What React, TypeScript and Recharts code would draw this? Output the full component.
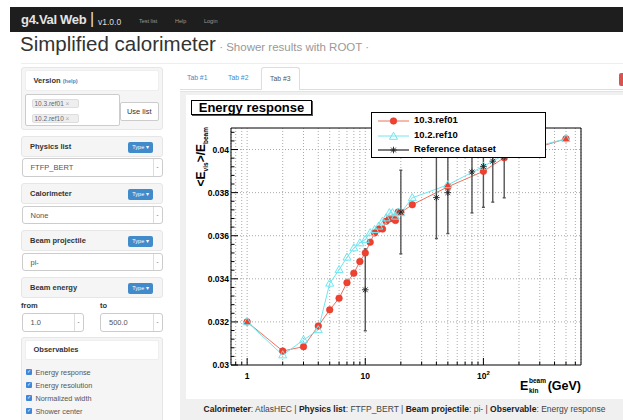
import React from "react";
import {
  ComposedChart,
  Line,
  Scatter,
  XAxis,
  YAxis,
  CartesianGrid,
  ReferenceLine,
  ReferenceArea,
  ErrorBar,
} from "recharts";

// beam energies in GeV, same for both Geant4 versions
const energies = [1, 2, 3, 4, 5, 6, 7, 8, 9, 10, 11, 12, 13, 14, 15, 16, 17, 18, 19, 20, 25, 50, 100, 150, 500];
const resp103 = [
  0.032, 0.03065, 0.03085, 0.03181, 0.03256, 0.0331, 0.03382, 0.03426, 0.0348, 0.0352, 0.0357, 0.03613, 0.03631,
  0.03631, 0.03667, 0.03678, 0.03682, 0.03671, 0.0371, 0.03708, 0.03744, 0.03827, 0.03899, 0.03962, 0.0405,
];
const resp102 = [
  0.032, 0.03046, 0.03116, 0.03163, 0.03379, 0.03442, 0.035, 0.03543, 0.03566, 0.03582, 0.03613, 0.03628, 0.03644,
  0.03667, 0.03682, 0.03706, 0.03706, 0.0369, 0.03708, 0.03706, 0.03776, 0.03836, 0.03922, 0.03975, 0.0405,
];
// reference (test beam) data with errors
const refEnergies = [10, 20, 40, 50, 80, 100, 120, 150];
const refResp = [0.03349, 0.0371, 0.03777, 0.038, 0.03896, 0.03922, 0.03946, 0.03966];
const refErr = [0.0019, 0.00194, 0.0019, 0.0019, 0.0019, 0.0019, 0.0019, 0.0019];

const xTicks = [0.8, 0.9, 1, 2, 3, 4, 5, 6, 7, 8, 9, 10, 20, 30, 40, 50, 60, 70, 80, 90, 100, 200, 300, 400, 500, 600];
const xMajor = [1, 10, 100];
const yTicks = [
  0.03, 0.0304, 0.0308, 0.0312, 0.0316, 0.032, 0.0324, 0.0328, 0.0332, 0.0336, 0.034, 0.0344, 0.0348, 0.0352,
  0.0356, 0.036, 0.0364, 0.0368, 0.0372, 0.0376, 0.038, 0.0384, 0.0388, 0.0392, 0.0396, 0.04, 0.0404, 0.0408,
];
const yMajor = [0.03, 0.032, 0.034, 0.036, 0.038, 0.04];
const yLabels = ["0.03", "0.032", "0.034", "0.036", "0.038", "0.04"];

const data103 = energies.map((e, i) => ({ e, val: resp103[i] }));
const data102 = energies.map((e, i) => ({ e, val: resp102[i] }));
const refData = refEnergies.map((e, i) => ({ e, val: refResp[i], err: refErr[i] }));

const FONT = '"Liberation Sans", Arial, Helvetica, sans-serif';
const RED = "#f0402f";
const CYAN = "#6fe6f0";

const RedDot = ({ cx, cy }: any) => (
  <circle cx={cx} cy={cy} r={3.3} fill={RED} stroke="#d83a2c" strokeWidth={0.6} />
);
const Tri = ({ cx, cy }: any) => (
  <polygon
    points={`${cx},${cy - 4.3} ${cx - 4},${cy + 2.8} ${cx + 4},${cy + 2.8}`}
    fill="none"
    stroke={CYAN}
    strokeWidth={1}
  />
);
const Star = ({ cx, cy }: any) => {
  const r = 3.3, d = 2.4;
  return (
    <g stroke="#222" strokeWidth={0.9}>
      <line x1={cx - r} y1={cy} x2={cx + r} y2={cy} />
      <line x1={cx} y1={cy - r} x2={cx} y2={cy + r} />
      <line x1={cx - d} y1={cy - d} x2={cx + d} y2={cy + d} />
      <line x1={cx - d} y1={cy + d} x2={cx + d} y2={cy - d} />
    </g>
  );
};

const XTick = ({ x, y, payload }: any) => {
  const v = payload.value;
  const major = xMajor.includes(v);
  return (
    <g>
      <line x1={x} x2={x} y1={y} y2={y - (major ? 7 : 3.5)} stroke="#000" />
      {major && (
        <text x={x} y={y + 13.5} textAnchor="middle" fontSize={8.5} fontWeight="bold" fontFamily={FONT} fill="#000">
          {v === 100 ? (
            <>
              10<tspan dy={-4} fontSize={6}>2</tspan>
            </>
          ) : (
            String(v)
          )}
        </text>
      )}
    </g>
  );
};

const YTick = ({ x, y, payload }: any) => {
  const idx = yMajor.findIndex((m) => Math.abs(m - payload.value) < 1e-9);
  const major = idx >= 0;
  return (
    <g>
      <line x1={x} x2={x + (major ? 7 : 3.5)} y1={y} y2={y} stroke="#000" />
      {major && (
        <text x={x - 2} y={y + 3} textAnchor="end" fontSize={8.5} fontWeight="bold" fontFamily={FONT} fill="#000">
          {yLabels[idx]}
        </text>
      )}
    </g>
  );
};

const XTitle = ({ viewBox }: any) => {
  const right = viewBox.x + viewBox.width;
  const by = viewBox.y + 25;
  return (
    <g fontWeight="bold" fontFamily={FONT} fill="#000">
      <text x={right - 61} y={by} fontSize={12.5}>E</text>
      <text x={right - 52} y={by - 7} fontSize={6.5}>beam</text>
      <text x={right - 52} y={by + 3} fontSize={6.5}>kin</text>
      <text x={right} y={by} fontSize={12.5} textAnchor="end">(GeV)</text>
    </g>
  );
};

const YTitle = ({ viewBox }: any) => {
  const tx = viewBox.x + 19;
  const ty = viewBox.y - 1;
  return (
    <text
      transform={`translate(${tx},${ty}) rotate(-90)`}
      textAnchor="end"
      fontSize={12}
      fontWeight="bold"
      fontFamily={FONT}
      fill="#000"
    >
      {"<E"}
      <tspan fontSize={6.5} dy={2.5}>vis</tspan>
      <tspan dy={-2.5}>{">/E"}</tspan>
      <tspan fontSize={6.5} dy={2.5}>beam</tspan>
    </text>
  );
};

const legendItems = [
  { name: "10.3.ref01", color: "#f07060", marker: "dot" },
  { name: "10.2.ref10", color: CYAN, marker: "tri" },
  { name: "Reference dataset", color: "#444", marker: "star" },
];

function EnergyChart() {
  return (
    <div style={{ position: "absolute", left: 186, top: 95, width: 437, height: 304, background: "#fff" }}>
      <ComposedChart width={437} height={304} margin={{ top: 33, right: 42, bottom: 0, left: 0 }}>
        <XAxis
          dataKey="e"
          type="number"
          scale="log"
          domain={[0.73, 670]}
          allowDataOverflow
          ticks={xTicks}
          interval={0}
          tickSize={0}
          tickMargin={0}
          axisLine={false}
          tickLine={false}
          tick={XTick}
          height={34}
          label={<XTitle />}
        />
        <YAxis
          dataKey="val"
          type="number"
          domain={[0.03, 0.041]}
          allowDataOverflow
          ticks={yTicks}
          interval={0}
          tickSize={0}
          tickMargin={0}
          axisLine={false}
          tickLine={false}
          tick={YTick}
          width={45}
          label={<YTitle />}
        />
        <CartesianGrid horizontal={false} stroke="#aaa" strokeDasharray="1 2" />
        {yMajor.slice(1).map((v) => (
          <ReferenceLine key={v} y={v} stroke="#aaa" strokeDasharray="1 2" />
        ))}
        <ReferenceArea x1={0.73} x2={670} y1={0.03} y2={0.041} fill="none" stroke="#000" strokeWidth={1} />
        <Line
          data={data103}
          dataKey="val"
          stroke="#f07060"
          strokeWidth={1}
          dot={(p: any) => <RedDot key={`r${p.index}`} cx={p.cx} cy={p.cy} />}
          isAnimationActive={false}
        />
        <Line
          data={data102}
          dataKey="val"
          stroke={CYAN}
          strokeWidth={1}
          dot={(p: any) => <Tri key={`c${p.index}`} cx={p.cx} cy={p.cy} />}
          isAnimationActive={false}
        />
        <Scatter data={refData} dataKey="val" shape={(p: any) => <Star cx={p.cx} cy={p.cy} />} isAnimationActive={false}>
          <ErrorBar dataKey="err" direction="y" width={1.5} stroke="#555" strokeWidth={1.4} />
        </Scatter>
      </ComposedChart>

      {/* plot title box */}
      <div
        style={{
          position: "absolute",
          left: 5,
          top: 5,
          width: 121,
          height: 15,
          boxSizing: "border-box",
          border: "1px solid #000",
          boxShadow: "1px 1px 0 #555",
          background: "#fff",
          font: `bold 13px ${FONT}`,
          lineHeight: "13px",
          textAlign: "center",
          color: "#000",
        }}
      >
        Energy response
      </div>

      {/* legend */}
      <div
        style={{
          position: "absolute",
          left: 185,
          top: 17,
          width: 175,
          height: 46,
          boxSizing: "border-box",
          border: "1px solid #000",
          background: "#fff",
        }}
      >
        {legendItems.map((it, i) => (
          <div key={it.name} style={{ position: "absolute", left: 0, top: 1 + i * 14.6, height: 14, width: 173 }}>
            <svg width={40} height={14} style={{ position: "absolute", left: 5, top: 0 }}>
              <line x1={1} x2={32} y1={7} y2={7} stroke={it.color} strokeWidth={it.marker === "star" ? 1.4 : 1} />
              {it.marker === "dot" && <RedDot cx={16.5} cy={7} />}
              {it.marker === "tri" && <Tri cx={16.5} cy={7.5} />}
              {it.marker === "star" && <Star cx={16.5} cy={7} />}
            </svg>
            <span
              style={{
                position: "absolute",
                left: 42,
                top: 0,
                lineHeight: "14px",
                font: `bold 9.5px ${FONT}`,
                color: "#000",
                whiteSpace: "nowrap",
              }}
            >
              {it.name}
            </span>
          </div>
        ))}
      </div>
    </div>
  );
}

const abs = (l: number, t: number, w: number, h: number, extra: React.CSSProperties = {}): React.CSSProperties => ({
  position: "absolute",
  left: l,
  top: t,
  width: w,
  height: h,
  boxSizing: "border-box",
  ...extra,
});

function Header({ top, label }: { top: number; label: string }) {
  return (
    <div style={abs(21, top, 142, 21, { background: "#f5f5f5", border: "1px solid #e6e6e6", borderRadius: 3 })}>
      <span style={{ position: "absolute", left: 8, top: 0, lineHeight: "19px", fontSize: 7.5, fontWeight: "bold", color: "#333" }}>
        {label}
      </span>
      <span
        style={{
          position: "absolute",
          left: 106,
          top: 5,
          width: 25,
          height: 11,
          background: "#428bca",
          borderRadius: 2,
          color: "#fff",
          fontSize: 5.5,
          lineHeight: "11px",
          textAlign: "center",
        }}
      >
        Type ▾
      </span>
    </div>
  );
}

function Select({ left, top, width, value }: { left: number; top: number; width: number; value: string }) {
  return (
    <div style={abs(left, top, width, 18.5, { background: "#fff", border: "1px solid #ccc", borderRadius: 3 })}>
      <span style={{ position: "absolute", left: 8, top: 0, lineHeight: "17px", fontSize: 7.5, color: "#555" }}>{value}</span>
      <span
        style={{
          position: "absolute",
          right: 0,
          top: 0,
          width: 8,
          height: 16.5,
          borderLeft: "1px solid #ddd",
          fontSize: 6,
          lineHeight: "16px",
          textAlign: "center",
          color: "#333",
        }}
      >
        -
      </span>
    </div>
  );
}

const observables = ["Energy response", "Energy resolution", "Normalized width", "Shower center"];

export default function App() {
  return (
    <div
      style={{
        position: "absolute",
        left: 0,
        top: 0,
        width: 623,
        height: 420,
        overflow: "hidden",
        background: "#fff",
        fontFamily: FONT,
      }}
    >
      {/* navbar */}
      <div style={abs(10, 7, 613, 25, { background: "#1e1e1e" })} />
      <div style={{ position: "absolute", left: 21, top: 12, fontSize: 13, fontWeight: "bold", color: "#e4e4e4", letterSpacing: -0.3, lineHeight: "15px" }}>
        g4.Val Web
      </div>
      <div style={{ position: "absolute", left: 90, top: 10, fontSize: 16, color: "#e4e4e4", lineHeight: "18px" }}>|</div>
      <div style={{ position: "absolute", left: 98, top: 17, fontSize: 8.5, color: "#ddd", lineHeight: "10px" }}>v1.0.0</div>
      <div style={{ position: "absolute", left: 139, top: 17, fontSize: 5.5, color: "#9a9a9a", lineHeight: "8px" }}>Test list</div>
      <div style={{ position: "absolute", left: 175, top: 17, fontSize: 5.5, color: "#9a9a9a", lineHeight: "8px" }}>Help</div>
      <div style={{ position: "absolute", left: 204, top: 17, fontSize: 5.5, color: "#9a9a9a", lineHeight: "8px" }}>Login</div>

      {/* page title */}
      <div style={{ position: "absolute", left: 20, top: 33, lineHeight: "22px", whiteSpace: "nowrap", color: "#333" }}>
        <span style={{ fontSize: 20.5 }}>Simplified calorimeter</span>
        <span style={{ fontSize: 11.5, color: "#999" }}> · Shower results with ROOT ·</span>
      </div>
      <div style={abs(21, 63, 602, 1, { background: "#eee" })} />

      {/* sidebar */}
      <div style={abs(21, 67, 142, 63, { background: "#f5f5f5", border: "1px solid #e6e6e6", borderRadius: 3 })} />
      <div style={abs(24.5, 70, 134, 21, { background: "#fff", border: "1px solid #eee", borderRadius: 2 })}>
        <span style={{ position: "absolute", left: 8, lineHeight: "20px", fontSize: 7.5, fontWeight: "bold", color: "#333" }}>
          Version <span style={{ fontSize: 5.5, color: "#428bca" }}>(help)</span>
        </span>
      </div>
      <div style={abs(25, 94, 95, 32, { background: "#fff", border: "1px solid #ccc", borderRadius: 2 })} />
      {["10.3.ref01", "10.2.ref10"].map((v, i) => (
        <div
          key={v}
          style={abs(31.5, 99 + i * 14.5, 47, 9, {
            background: "#eee",
            border: "1px solid #ddd",
            borderRadius: 2,
            fontSize: 6.5,
            lineHeight: "7px",
            color: "#666",
            paddingLeft: 2,
            whiteSpace: "nowrap",
          })}
        >
          {v} <span style={{ color: "#aaa" }}>×</span>
        </div>
      ))}
      <div
        style={abs(120, 102, 38.5, 19, {
          background: "#fff",
          border: "1px solid #ccc",
          borderRadius: 2,
          fontSize: 7.5,
          lineHeight: "17px",
          textAlign: "center",
          color: "#333",
        })}
      >
        Use list
      </div>

      <Header top={136} label="Physics list" />
      <Select left={21.5} top={158} width={141} value="FTFP_BERT" />
      <Header top={182.5} label="Calorimeter" />
      <Select left={21.5} top={205.5} width={141} value="None" />
      <Header top={229.5} label="Beam projectile" />
      <Select left={21.5} top={252.5} width={141} value="pi-" />
      <Header top={276.5} label="Beam energy" />
      <div style={{ position: "absolute", left: 21, top: 301, fontSize: 7.5, fontWeight: "bold", color: "#333", lineHeight: "9px" }}>from</div>
      <div style={{ position: "absolute", left: 100, top: 301, fontSize: 7.5, fontWeight: "bold", color: "#333", lineHeight: "9px" }}>to</div>
      <Select left={21.5} top={313} width={62} value="1.0" />
      <Select left={100} top={313} width={62.5} value="500.0" />

      <div style={abs(21, 337, 142, 100, { background: "#f5f5f5", border: "1px solid #e6e6e6", borderRadius: 3 })} />
      <div style={abs(24.5, 340, 134, 19.5, { background: "#fff", border: "1px solid #eee", borderRadius: 2 })}>
        <span style={{ position: "absolute", left: 8, lineHeight: "18px", fontSize: 7.5, fontWeight: "bold", color: "#333" }}>
          Observables
        </span>
      </div>
      {observables.map((o, i) => (
        <div key={o}>
          <div
            style={abs(26, 369 + i * 13.1, 5.5, 5.5, {
              background: "#3d86d9",
              borderRadius: 1,
              fontSize: 4.5,
              lineHeight: "5.5px",
              color: "#fff",
              textAlign: "center",
            })}
          >
            ✓
          </div>
          <div style={{ position: "absolute", left: 35.5, top: 367.5 + i * 13.1, fontSize: 7.3, lineHeight: "9px", color: "#555", whiteSpace: "nowrap" }}>
            {o}
          </div>
        </div>
      ))}

      {/* tabs */}
      <div style={abs(180, 89, 443, 1, { background: "#ddd" })} />
      <div style={{ position: "absolute", left: 187, top: 74, fontSize: 6.8, color: "#428bca", lineHeight: "8px" }}>Tab #1</div>
      <div style={{ position: "absolute", left: 228, top: 74, fontSize: 6.8, color: "#428bca", lineHeight: "8px" }}>Tab #2</div>
      <div
        style={abs(261, 67, 38.5, 23, {
          background: "#fff",
          border: "1px solid #ddd",
          borderBottom: "none",
          borderRadius: "3px 3px 0 0",
          fontSize: 6.8,
          lineHeight: "22px",
          textAlign: "center",
          color: "#555",
        })}
      >
        Tab #3
      </div>
      <div style={abs(619, 72.5, 10, 13, { background: "#d9534f", borderRadius: 2 })} />

      {/* result panel */}
      <div style={abs(180, 91, 443, 329, { background: "#f0f0f0", borderTop: "1px solid #e4e4e4" })} />
      <EnergyChart />
      <div
        style={{
          position: "absolute",
          left: 186,
          top: 404,
          width: 437,
          textAlign: "center",
          fontSize: 8.5,
          lineHeight: "11px",
          color: "#444",
          whiteSpace: "nowrap",
        }}
      >
        <b style={{ color: "#222" }}>Calorimeter</b>: AtlasHEC | <b style={{ color: "#222" }}>Physics list</b>: FTFP_BERT |{" "}
        <b style={{ color: "#222" }}>Beam projectile</b>: pi- | <b style={{ color: "#222" }}>Observable</b>: Energy response
      </div>
    </div>
  );
}
